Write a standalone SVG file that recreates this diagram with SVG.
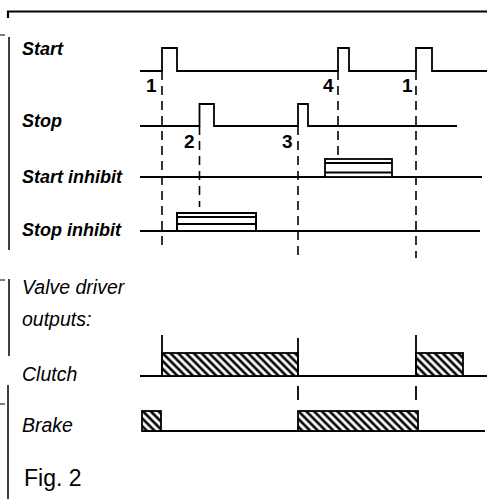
<svg xmlns="http://www.w3.org/2000/svg" width="487" height="499" viewBox="0 0 487 499">
<style>
.sig{fill:none;stroke:#000;stroke-width:1.8}
.dash{fill:none;stroke:#000;stroke-width:1.6;stroke-dasharray:9 6}
.lbl{font-family:"Liberation Sans",Arial,sans-serif;font-style:italic;font-size:18px;font-weight:bold;fill:#000}
.lbl2{font-family:"Liberation Sans",Arial,sans-serif;font-style:italic;font-size:19.5px;fill:#000}
.num{font-family:"Liberation Sans",Arial,sans-serif;font-size:19px;font-weight:bold;fill:#000}
.hatch{fill:url(#h);stroke:#000;stroke-width:1.8}
.frame{fill:none;stroke:#000}
</style>
<defs>
<pattern id="h" patternUnits="userSpaceOnUse" width="5.5" height="5.5" patternTransform="rotate(-45)">
<rect width="5.5" height="5.5" fill="#fff"/>
<line x1="2.75" y1="0" x2="2.75" y2="5.5" stroke="#000" stroke-width="2.6"/>
</pattern>
</defs>
<rect width="487" height="499" fill="#fff"/>
<g id="frame">
<path class="frame" stroke-width="2.2" d="M8 18 V11.5 H487"/>
<path class="frame" stroke-width="1.5" d="M9 37 V250 M9 279 V356 M8 385 V499"/>
<path class="frame" stroke-width="1" d="M0 35 H5 M0 280 H5 M0 404 H5"/>
</g>
<g id="labels">
<text class="lbl" x="22" y="55">Start</text>
<text class="lbl" x="22" y="127">Stop</text>
<text class="lbl" x="22" y="183">Start inhibit</text>
<text class="lbl" x="22" y="236">Stop inhibit</text>
<text class="lbl2" x="22" y="294">Valve driver</text>
<text class="lbl2" x="22" y="326">outputs:</text>
<text class="lbl2" x="22" y="381">Clutch</text>
<text class="lbl2" x="22" y="432">Brake</text>
<text x="24" y="486" font-family="Liberation Sans,Arial,sans-serif" font-size="23">Fig. 2</text>
</g>
<g id="connectors">
<path class="dash" d="M162 71 V250"/>
<path class="dash" d="M199.5 126 V207"/>
<path class="dash" d="M298 126 V258"/>
<path class="dash" d="M338 71 V157"/>
<path class="dash" d="M416 71 V258"/>
</g>
<g id="start">
<path class="sig" d="M140 71 H162 V48 H177 V71 H338 V48 H349 V71 H416 V48 H432 V71 H487"/>
<text class="num" x="146" y="92">1</text>
<text class="num" x="323" y="92">4</text>
<text class="num" x="402" y="92">1</text>
</g>
<g id="stop">
<path class="sig" d="M140 126 H199.5 V104 H214 V126 H298 V104 H308 V126 H457"/>
<text class="num" x="184" y="148">2</text>
<text class="num" x="282" y="148">3</text>
</g>
<g id="start-inhibit">
<path class="sig" d="M140 177 H482"/>
<rect x="325" y="159" width="67" height="18" fill="#fff" stroke="#000" stroke-width="1.8"/>
<path class="sig" d="M325 163 H392"/>
<path class="sig" stroke-width="2.4" d="M325 172.5 H392"/>
</g>
<g id="stop-inhibit">
<path class="sig" d="M140 231 H480"/>
<rect x="177" y="213" width="79" height="18" fill="#fff" stroke="#000" stroke-width="2"/>
<path class="sig" stroke-width="0.8" d="M177 217 H256"/>
<path class="sig" stroke-width="2.6" d="M177 224 H256"/>
</g>
<g id="clutch">
<path class="sig" d="M140 376 H487"/>
<rect class="hatch" x="162" y="353" width="136" height="23"/>
<rect class="hatch" x="416" y="353" width="47" height="23"/>
<path class="sig" d="M162 335 V376 M298 338 V376 M416 335 V376"/>
</g>
<g id="brake">
<path class="sig" d="M142 431 H485"/>
<rect class="hatch" x="142" y="411" width="19" height="20"/>
<rect class="hatch" x="298" y="411" width="120" height="20"/>
<path class="sig" d="M298 386 V400 M416 386 V400"/>
</g>
</svg>
